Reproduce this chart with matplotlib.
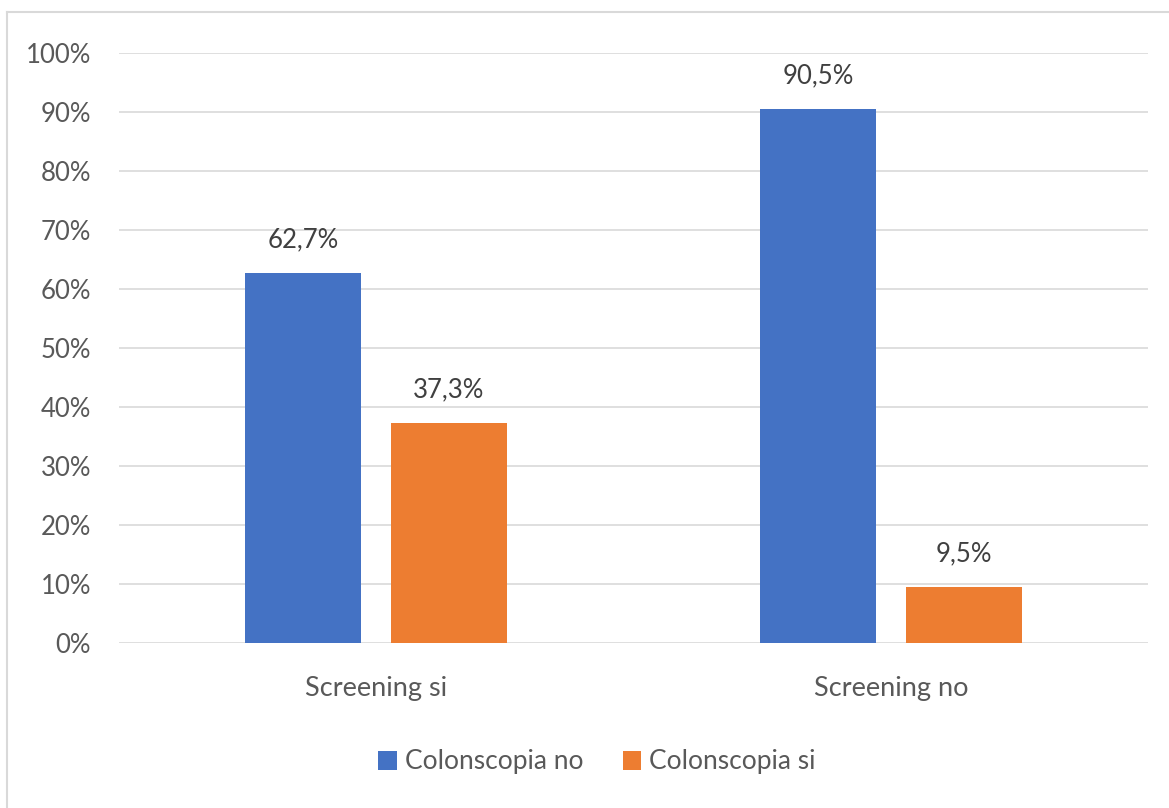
import matplotlib.pyplot as plt
from matplotlib.lines import Line2D
from matplotlib.patches import Patch
import numpy as np

categories = ["Screening si", "Screening no"]
series_names = ["Colonscopia no", "Colonscopia si"]
colonscopia_no = [62.7, 90.5]
colonscopia_si = [37.3, 9.5]
yticks = [0, 10, 20, 30, 40, 50, 60, 70, 80, 90, 100]

colors = ["#4472C4", "#ED7D31"]
text_color = "#595959"
grid_color = "#D9D9D9"

plt.rcParams['font.family'] = ['Lato', 'DejaVu Sans']

fig = plt.figure(figsize=(11.69, 8.08), dpi=100)
W, H = 1169, 808
ax = fig.add_axes([119 / W, 1 - 643 / H, (1148 - 119) / W, (643 - 53) / H])

x = np.arange(len(categories))
bar_w = 0.2255
offset = 0.1415
values = [colonscopia_no, colonscopia_si]
for i, (vals, c) in enumerate(zip(values, colors)):
    pos = x + (offset if i else -offset)
    bars = ax.bar(pos, vals, width=bar_w, color=c, zorder=3)
    for b, v in zip(bars, vals):
        ax.annotate(f"{v:.1f}%".replace(".", ","),
                    (b.get_x() + b.get_width() / 2, v),
                    xytext=(0, 15), textcoords="offset points",
                    ha="center", va="bottom", fontsize=18.5, color="#404040")

ax.set_xlim(-0.5, 1.5)
ax.set_ylim(0, 100)
ax.set_yticks(yticks)
ax.set_yticklabels([f"{t}%" for t in yticks])
ax.set_xticks(x)
ax.set_xticklabels(categories)
ax.tick_params(axis="y", length=0, labelsize=18.5, labelcolor=text_color, pad=20)
ax.tick_params(axis="x", length=0, labelsize=19.5, labelcolor=text_color, pad=24)
ax.yaxis.grid(True, color=grid_color, linewidth=1.2, zorder=0)
for s in ax.spines.values():
    s.set_visible(False)

handles = [Patch(facecolor=c, edgecolor="none") for c in colors]
fig.legend(handles, series_names, loc="center", bbox_to_anchor=(597 / W, 1 - 762 / H),
           ncol=2, frameon=False, fontsize=19, labelcolor=text_color,
           handlelength=0.7, handleheight=0.7, handletextpad=0.3, columnspacing=1.5)

# outer chart border
fig.add_artist(Line2D([7 / W, 7 / W], [0, 1 - 12 / H], color=grid_color, linewidth=1.5))
fig.add_artist(Line2D([7 / W, 1], [1 - 12 / H, 1 - 12 / H], color=grid_color, linewidth=1.5))

fig.savefig("out.png", dpi=100)
